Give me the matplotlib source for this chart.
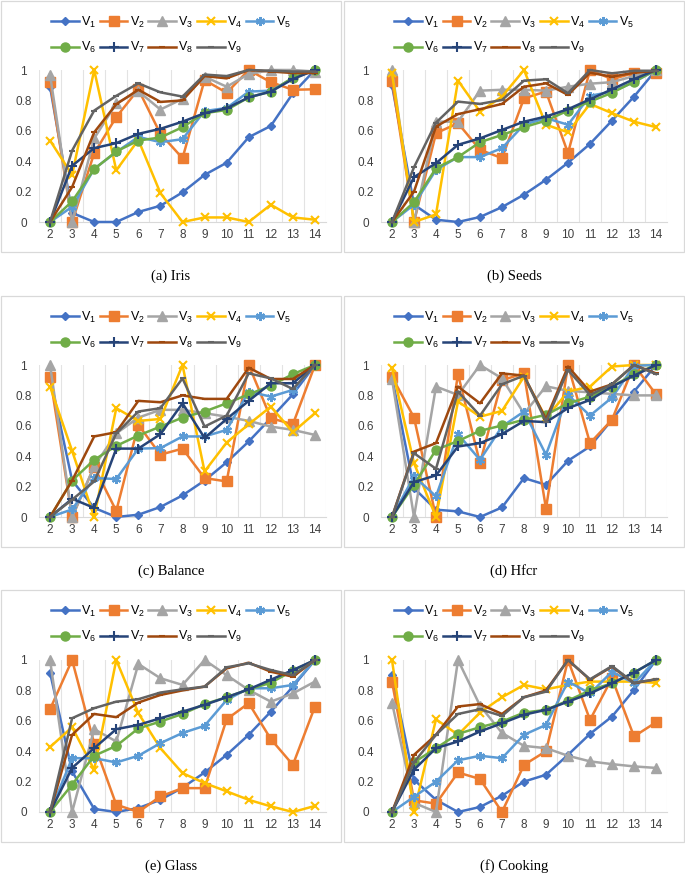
import matplotlib
matplotlib.use("Agg")
import matplotlib.pyplot as plt
from matplotlib.patches import Rectangle
import numpy as np

plt.rcParams["font.family"] = ["Liberation Sans", "DejaVu Sans"]

# k values on the category axis
k = [2, 3, 4, 5, 6, 7, 8, 9, 10, 11, 12, 13, 14]

# Iris
iris_v1 = [0.89, 0.06, 0.0, 0.0, 0.066, 0.107, 0.195, 0.31, 0.39, 0.558, 0.632, 0.847, 1.0]
iris_v2 = [0.923, 0.0, 0.453, 0.69, 0.873, 0.58, 0.42, 0.934, 0.85, 1.0, 0.92, 0.87, 0.873]
iris_v3 = [0.97, 0.0, 0.55, 0.78, 0.86, 0.74, 0.81, 0.956, 0.89, 0.973, 1.0, 1.0, 0.99]
iris_v4 = [0.536, 0.31, 1.0, 0.34, 0.54, 0.19, 0.0, 0.03, 0.03, 0.0, 0.114, 0.03, 0.015]
iris_v5 = [0.0, 0.1, 0.35, 0.46, 0.56, 0.525, 0.545, 0.73, 0.75, 0.858, 0.864, 0.945, 1.0]
iris_v6 = [0.0, 0.136, 0.348, 0.464, 0.536, 0.556, 0.624, 0.716, 0.737, 0.82, 0.858, 0.95, 1.0]
iris_v7 = [0.0, 0.37, 0.486, 0.519, 0.58, 0.613, 0.66, 0.716, 0.748, 0.82, 0.858, 0.94, 1.0]
iris_v8 = [0.0, 0.23, 0.59, 0.775, 0.87, 0.79, 0.8, 0.96, 0.945, 1.0, 0.99, 0.98, 0.98]
iris_v9 = [0.0, 0.47, 0.733, 0.83, 0.912, 0.853, 0.825, 0.97, 0.96, 1.0, 0.995, 0.99, 0.99]

# Seeds
seeds_v1 = [0.9, 0.114, 0.015, 0.0, 0.033, 0.098, 0.18, 0.278, 0.39, 0.514, 0.667, 0.825, 1.0]
seeds_v2 = [0.93, 0.0, 0.584, 0.65, 0.475, 0.42, 0.814, 0.858, 0.453, 1.0, 0.94, 0.98, 0.98]
seeds_v3 = [1.0, 0.0, 0.66, 0.66, 0.864, 0.87, 0.87, 0.864, 0.89, 0.91, 0.92, 0.96, 1.0]
seeds_v4 = [0.98, 0.0, 0.05, 0.93, 0.726, 0.825, 1.0, 0.64, 0.59, 0.777, 0.716, 0.66, 0.624]
seeds_v5 = [0.0, 0.114, 0.343, 0.427, 0.427, 0.486, 0.64, 0.683, 0.64, 0.83, 0.858, 0.92, 1.0]
seeds_v6 = [0.0, 0.13, 0.354, 0.427, 0.525, 0.573, 0.624, 0.667, 0.733, 0.792, 0.85, 0.923, 1.0]
seeds_v7 = [0.0, 0.295, 0.387, 0.508, 0.55, 0.606, 0.66, 0.694, 0.742, 0.807, 0.873, 0.94, 1.0]
seeds_v8 = [0.0, 0.2, 0.628, 0.71, 0.742, 0.777, 0.89, 0.912, 0.836, 0.982, 0.956, 0.982, 0.995]
seeds_v9 = [0.0, 0.36, 0.654, 0.792, 0.777, 0.803, 0.93, 0.939, 0.847, 1.0, 0.978, 0.995, 0.995]

# Balance
balance_v1 = [0.92, 0.24, 0.06, 0.0, 0.015, 0.066, 0.142, 0.24, 0.36, 0.497, 0.65, 0.807, 1.0]
balance_v2 = [0.923, 0.0, 0.33, 0.04, 0.606, 0.41, 0.45, 0.256, 0.234, 1.0, 0.65, 0.61, 1.0]
balance_v3 = [1.0, 0.0, 0.333, 0.55, 0.654, 0.705, 0.705, 0.683, 0.66, 0.632, 0.595, 0.573, 0.54]
balance_v4 = [0.858, 0.435, 0.0, 0.716, 0.632, 0.645, 1.0, 0.3, 0.49, 0.61, 0.726, 0.558, 0.683]
balance_v5 = [0.0, 0.05, 0.256, 0.25, 0.45, 0.453, 0.53, 0.53, 0.573, 0.825, 0.792, 0.836, 1.0]
balance_v6 = [0.0, 0.24, 0.376, 0.468, 0.536, 0.595, 0.654, 0.694, 0.748, 0.807, 0.864, 0.94, 1.0]
balance_v7 = [0.0, 0.12, 0.06, 0.45, 0.45, 0.545, 0.748, 0.52, 0.645, 0.764, 0.88, 0.88, 1.0]
balance_v8 = [0.0, 0.24, 0.53, 0.558, 0.764, 0.755, 0.8, 0.777, 0.777, 0.982, 0.908, 0.908, 1.0]
balance_v9 = [0.0, 0.114, 0.234, 0.55, 0.694, 0.716, 0.912, 0.595, 0.667, 0.945, 0.912, 0.842, 1.0]

# Hfcr
hfcr_v1 = [0.92, 0.19, 0.048, 0.037, 0.0, 0.063, 0.256, 0.212, 0.37, 0.464, 0.64, 0.825, 1.0]
hfcr_v2 = [0.923, 0.654, 0.0, 0.94, 0.354, 0.9, 0.945, 0.055, 1.0, 0.486, 0.64, 1.0, 0.807]
hfcr_v3 = [0.908, 0.0, 0.858, 0.803, 1.0, 0.912, 0.68, 0.86, 0.83, 0.82, 0.81, 0.8, 0.8]
hfcr_v4 = [0.98, 0.354, 0.0, 0.76, 0.66, 0.698, 0.923, 0.65, 0.825, 0.858, 0.99, 1.0, 1.0]
hfcr_v5 = [0.0, 0.267, 0.136, 0.545, 0.376, 0.595, 0.694, 0.41, 0.803, 0.667, 0.786, 0.995, 1.0]
hfcr_v6 = [0.0, 0.212, 0.442, 0.5, 0.567, 0.602, 0.64, 0.672, 0.748, 0.792, 0.858, 0.94, 1.0]
hfcr_v7 = [0.0, 0.23, 0.274, 0.464, 0.486, 0.545, 0.632, 0.624, 0.716, 0.77, 0.858, 0.93, 1.0]
hfcr_v8 = [0.0, 0.43, 0.486, 0.858, 0.748, 0.945, 0.93, 0.645, 0.99, 0.825, 0.873, 1.0, 0.945]
hfcr_v9 = [0.0, 0.42, 0.317, 0.825, 0.667, 0.873, 0.93, 0.628, 0.967, 0.803, 0.873, 1.0, 0.94]

# Glass
glass_v1 = [0.917, 0.267, 0.02, 0.0, 0.026, 0.08, 0.16, 0.26, 0.376, 0.508, 0.66, 0.825, 1.0]
glass_v2 = [0.676, 1.0, 0.45, 0.048, 0.0, 0.103, 0.157, 0.157, 0.61, 0.716, 0.48, 0.31, 0.694]
glass_v3 = [1.0, 0.0, 0.545, 0.464, 0.974, 0.88, 0.836, 1.0, 0.9, 0.803, 0.726, 0.78, 0.858]
glass_v4 = [0.427, 0.558, 0.278, 1.0, 0.65, 0.42, 0.256, 0.19, 0.136, 0.08, 0.037, 0.0, 0.04]
glass_v5 = [0.0, 0.354, 0.354, 0.326, 0.37, 0.453, 0.52, 0.567, 0.737, 0.814, 0.814, 0.836, 1.0]
glass_v6 = [0.0, 0.18, 0.37, 0.435, 0.55, 0.595, 0.645, 0.71, 0.755, 0.807, 0.85, 0.93, 1.0]
glass_v7 = [0.0, 0.29, 0.42, 0.545, 0.573, 0.617, 0.66, 0.705, 0.755, 0.807, 0.87, 0.934, 1.0]
glass_v8 = [0.0, 0.508, 0.645, 0.624, 0.72, 0.77, 0.8, 0.825, 0.945, 0.982, 0.923, 0.89, 1.0]
glass_v9 = [0.0, 0.617, 0.683, 0.726, 0.742, 0.786, 0.807, 0.825, 0.952, 0.978, 0.934, 0.9, 1.0]

# Cooking
cooking_v1 = [0.9, 0.212, 0.08, 0.0, 0.033, 0.107, 0.2, 0.245, 0.376, 0.514, 0.628, 0.803, 1.0]
cooking_v2 = [0.858, 0.077, 0.055, 0.26, 0.217, 0.0, 0.31, 0.4, 1.0, 0.606, 0.88, 0.497, 0.59]
cooking_v3 = [0.72, 0.06, 0.0, 1.0, 0.7, 0.52, 0.435, 0.42, 0.37, 0.333, 0.315, 0.3, 0.29]
cooking_v4 = [1.0, 0.0, 0.61, 0.508, 0.654, 0.755, 0.836, 0.807, 0.836, 0.858, 0.858, 0.858, 0.85]
cooking_v5 = [0.0, 0.1, 0.2, 0.34, 0.37, 0.354, 0.508, 0.573, 0.858, 0.78, 0.923, 0.847, 1.0]
cooking_v6 = [0.0, 0.326, 0.42, 0.514, 0.558, 0.595, 0.654, 0.672, 0.733, 0.8, 0.847, 0.917, 1.0]
cooking_v7 = [0.0, 0.278, 0.42, 0.464, 0.53, 0.584, 0.64, 0.672, 0.726, 0.78, 0.847, 0.917, 1.0]
cooking_v8 = [0.0, 0.376, 0.508, 0.694, 0.71, 0.645, 0.755, 0.8, 1.0, 0.87, 0.956, 0.847, 0.873]
cooking_v9 = [0.0, 0.326, 0.508, 0.645, 0.676, 0.632, 0.755, 0.792, 1.0, 0.873, 0.96, 0.85, 0.873]

captions = ["(a) Iris", "(b) Seeds", "(c) Balance", "(d) Hfcr", "(e) Glass", "(f) Cooking"]
panels = [
    [iris_v1, iris_v2, iris_v3, iris_v4, iris_v5, iris_v6, iris_v7, iris_v8, iris_v9],
    [seeds_v1, seeds_v2, seeds_v3, seeds_v4, seeds_v5, seeds_v6, seeds_v7, seeds_v8, seeds_v9],
    [balance_v1, balance_v2, balance_v3, balance_v4, balance_v5, balance_v6, balance_v7, balance_v8, balance_v9],
    [hfcr_v1, hfcr_v2, hfcr_v3, hfcr_v4, hfcr_v5, hfcr_v6, hfcr_v7, hfcr_v8, hfcr_v9],
    [glass_v1, glass_v2, glass_v3, glass_v4, glass_v5, glass_v6, glass_v7, glass_v8, glass_v9],
    [cooking_v1, cooking_v2, cooking_v3, cooking_v4, cooking_v5, cooking_v6, cooking_v7, cooking_v8, cooking_v9],
]

colors = ["#4472C4", "#ED7D31", "#A5A5A5", "#FFC000", "#5B9BD5",
          "#70AD47", "#264478", "#9E480E", "#636363"]
markers = ["D", "s", "^", "x", (6, 2, 0), "o", "+", "_", "_"]
msizes = [4.5, 6.5, 7, 6, 6.5, 6.5, 6.5, 5, 5]
names = [r"$\mathregular{V_%d}$" % (i + 1) for i in range(9)]

W, H = 685, 875
fig = plt.figure(figsize=(W / 100, H / 100), dpi=100)

col_plot = [(39, 326), (381, 667)]
col_box = [(1, 341), (344, 684)]
row_plot = [(70, 222), (365, 517), (660, 812)]
row_box = [(1, 252), (296, 547), (590, 842)]

for i, series in enumerate(panels):
    r, c = divmod(i, 2)
    x0, x1 = col_plot[c]
    ytop, ybot = row_plot[r]
    ax = fig.add_axes([x0 / W, 1 - ybot / H, (x1 - x0) / W, (ybot - ytop) / H])

    # panel frame
    bx0, bx1 = col_box[c]
    by0, by1 = row_box[r]
    fig.patches.append(Rectangle((bx0 / W, 1 - by1 / H), (bx1 - bx0) / W, (by1 - by0) / H,
                                 transform=fig.transFigure, fill=False,
                                 edgecolor="#d9d9d9", linewidth=0.9))

    handles = []
    for j, vals in enumerate(series):
        mew = 1.5 if markers[j] in ("x", "+", "_", (6, 2, 0)) else 1
        h, = ax.plot(k, vals, color=colors[j], marker=markers[j], markersize=msizes[j],
                     markeredgewidth=mew, linewidth=1.8, clip_on=False, zorder=3 + j)
        handles.append(h)

    ax.set_xlim(1.5, 14.5)
    ax.set_ylim(0, 1)
    ax.set_xticks(k)
    ax.set_yticks([0, 0.2, 0.4, 0.6, 0.8, 1.0])
    ax.set_yticklabels(["0", "0.2", "0.4", "0.6", "0.8", "1"])
    for lbl in ax.get_yticklabels():
        lbl.set_horizontalalignment("center")
    ax.tick_params(length=0, labelsize=8.5, colors="#404040")
    ax.tick_params(axis="y", pad=11)
    ax.tick_params(axis="x", pad=5)
    for s in ["top", "left", "right"]:
        ax.spines[s].set_visible(False)
    ax.spines["bottom"].set_color("#d9d9d9")
    ax.set_xticks(np.arange(1.5, 15, 1), minor=True)
    ax.tick_params(which="minor", length=0)
    ax.grid(which="minor", axis="x", color="#e3e3e3", linewidth=0.8)
    ax.set_axisbelow(True)

    order = [0, 5, 1, 6, 2, 7, 3, 8, 4]
    cx = (bx0 + bx1) / 2 / W
    fig.legend([handles[o] for o in order], [names[o] for o in order],
               loc="center", bbox_to_anchor=(cx, 1 - (by0 + 34) / H), ncol=5,
               frameon=False, fontsize=9, handlelength=2.2, handletextpad=0.2,
               columnspacing=0.3, labelspacing=0.85, borderpad=0)

    fig.text(cx, 1 - (by1 + 24) / H, captions[i], ha="center", va="center",
             family="Liberation Serif", fontsize=10.5)

fig.savefig("out.png", dpi=100)
